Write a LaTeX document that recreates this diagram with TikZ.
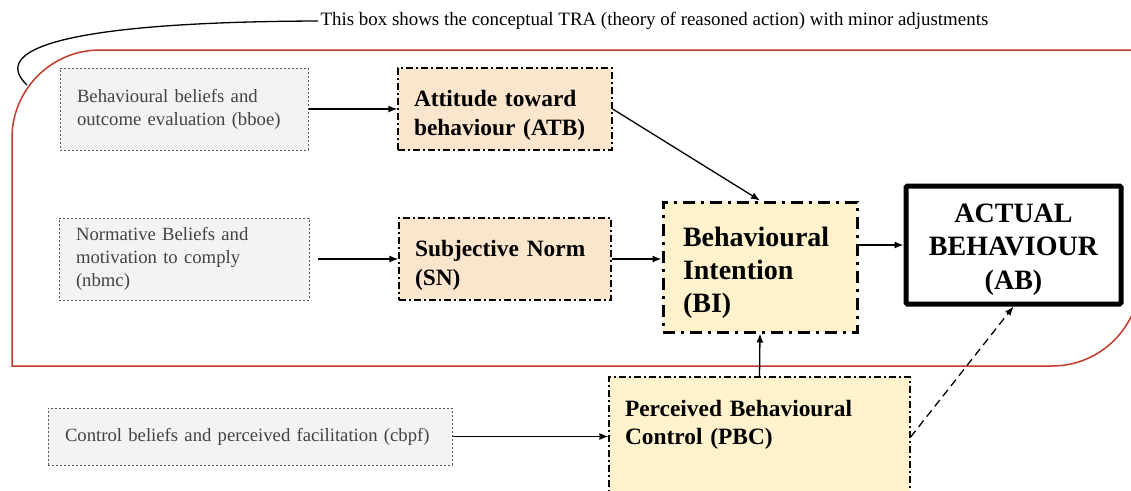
\documentclass[tikz,border=0pt]{standalone}
\usepackage{fontspec}
\setmainfont{Liberation Serif}
\usetikzlibrary{arrows.meta}

\definecolor{beliefFill}{HTML}{F3F3F3}
\definecolor{beliefLine}{HTML}{595959}
\definecolor{beliefText}{HTML}{434343}
\definecolor{peach}{HTML}{FCE5CD}
\definecolor{cream}{HTML}{FFF2CC}
\definecolor{traRed}{HTML}{C0392B}

\begin{document}
\begin{tikzpicture}[
            x = 1pt, y = -1pt, % pixel grid, y pointing down
            > = {Latex[length=9pt, width=7pt]}, % arrow head style
            node distance = 321pt, % distance between nodes
            line width = 1.3pt, % line style
            belief/.style = {draw=beliefLine, line width=1pt, dash pattern=on 2pt off 2pt,
                fill=beliefFill, text=beliefText, align=left, inner xsep=17pt,
                minimum height=82pt, font=\fontsize{18.7}{23}\selectfont},
            factor/.style = {draw, line width=1.3pt, dash pattern=on 7pt off 3pt on 2pt off 3pt,
                fill=peach, align=left, inner xsep=16pt, minimum height=82pt,
                text height=22.5pt, text depth=27.5pt, % text sits a bit low
                font=\fontsize{23.4}{28.5}\selectfont\bfseries},
            intention/.style = {draw, line width=3pt, dash pattern=on 12pt off 6pt on 3pt off 6pt,
                fill=cream, align=left, inner xsep=20pt, minimum height=130pt,
                text height=25.5pt, text depth=66pt,
                font=\fontsize{28}{33}\selectfont\bfseries},
            actual/.style = {draw, line width=5pt, rounded corners=1.5pt, fill=white, align=center,
                text width=200pt, minimum width=215pt, minimum height=118pt,
                text height=23pt, text depth=69pt,
                font=\fontsize{28}{33.5}\selectfont\bfseries},
            note/.style = {inner sep=2pt, font=\fontsize{18.9}{22}\selectfont}
        ]

    \useasboundingbox (0,0) rectangle (1131,490);

    % TRA frame
    \draw[traRed, line width=1.5pt] (12,366) -- (12,138) arc[start angle=180, end angle=90, radius=88pt]
        -- (1140,50) -- (1140,278) arc[start angle=0, end angle=-90, radius=88pt] -- cycle;

    \node[note, anchor=west] (note) at (318,21) {This box shows the conceptual TRA (theory of reasoned action) with minor adjustments};
    \coordinate (hook) at (27,85);
    \draw (note.west) .. controls (60,22) and (-10,50) .. (hook);

    \node[belief, text width=214pt] (bboe) at (184,109) {Behavioural beliefs and\\outcome evaluation (bboe)};
    \node[factor, text width=182pt] (atb) [right of=bboe] {Attitude toward\\behaviour (ATB)};
    \node[belief, text width=216pt] (nbmc) [node distance=150pt, below of=bboe] {Normative Beliefs and\\motivation to comply\\(nbmc)};
    \node[factor, text width=180pt] (sn) [right of=nbmc] {Subjective Norm\\(SN)};
    \node[intention, text width=154pt] (bi) at (760,267) {Behavioural\\Intention\\(BI)};
    \node[actual] (ab) at (1013.5,245) {ACTUAL\\BEHAVIOUR\\(AB)};
    \node[belief, text width=370pt, minimum height=57pt] (cbpf) at (250,436.5) {Control beliefs and perceived facilitation (cbpf)};
    \node[factor, fill=cream, text width=269pt, minimum height=120pt, inner ysep=20pt,
        text height=19pt, text depth=61pt] (pbc) at (759.5,437) {Perceived Behavioural\\Control (PBC)};

    \draw[->] (bboe) -- (atb);
    \draw[->] (atb.east) -- (bi.north);
    \draw[->, shorten <=8pt] (nbmc.east) -- (sn.west);
    \draw[->] (sn.east) -- (sn.east -| bi.west);
    \draw[->] (bi.east |- ab.west) -- (ab.west);
    \draw[->] (pbc.north) -- (bi.south);
    \draw[->] (cbpf.east) -- (cbpf.east -| pbc.west);
    \draw[->, dash pattern=on 8pt off 5pt] (pbc.east) -- (ab.south);

\end{tikzpicture}
\end{document}
